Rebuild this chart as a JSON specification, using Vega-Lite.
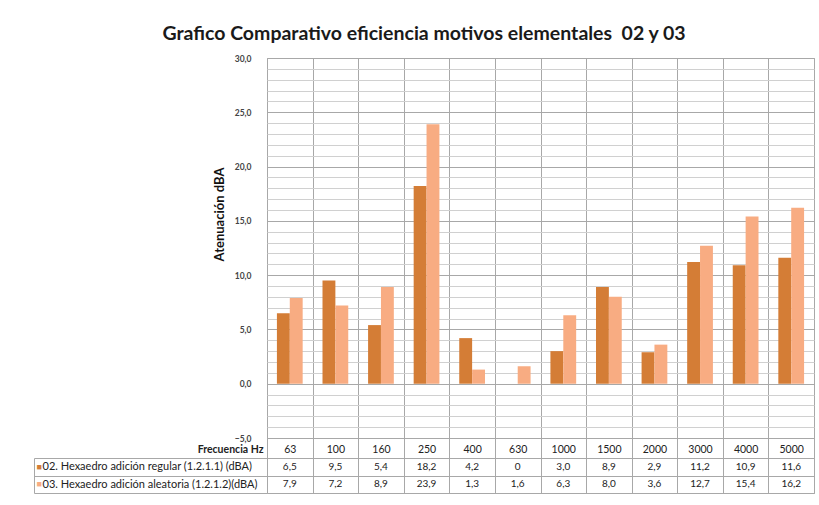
{
  "$schema": "https://vega.github.io/schema/vega-lite/v6.json",
  "background": "white",
  "padding": {"left": 33, "top": 24, "right": 6, "bottom": 12},
  "autosize": {"type": "pad"},
  "title": {
    "text": "Grafico Comparativo eficiencia motivos elementales \u00a002 y 03",
    "font": "Lato", "fontSize": 19.5, "fontWeight": "bold", "color": "#1a1a1a",
    "anchor": "middle", "frame": "bounds", "baseline": "bottom", "offset": -10
  },
  "config": {
    "locale": {"number": {"decimal": ",", "thousands": ".", "grouping": [3], "currency": ["", " €"]}},
    "font": "Lato",
    "view": {"stroke": "#a8a8a8"}
  },
  "data": {
    "values": [
      {"freq": "63", "series": "02. Hexaedro adición regular (1.2.1.1) (dBA)", "value": 6.5},
      {"freq": "100", "series": "02. Hexaedro adición regular (1.2.1.1) (dBA)", "value": 9.5},
      {"freq": "160", "series": "02. Hexaedro adición regular (1.2.1.1) (dBA)", "value": 5.4},
      {"freq": "250", "series": "02. Hexaedro adición regular (1.2.1.1) (dBA)", "value": 18.2},
      {"freq": "400", "series": "02. Hexaedro adición regular (1.2.1.1) (dBA)", "value": 4.2},
      {"freq": "630", "series": "02. Hexaedro adición regular (1.2.1.1) (dBA)", "value": 0},
      {"freq": "1000", "series": "02. Hexaedro adición regular (1.2.1.1) (dBA)", "value": 3.0},
      {"freq": "1500", "series": "02. Hexaedro adición regular (1.2.1.1) (dBA)", "value": 8.9},
      {"freq": "2000", "series": "02. Hexaedro adición regular (1.2.1.1) (dBA)", "value": 2.9},
      {"freq": "3000", "series": "02. Hexaedro adición regular (1.2.1.1) (dBA)", "value": 11.2},
      {"freq": "4000", "series": "02. Hexaedro adición regular (1.2.1.1) (dBA)", "value": 10.9},
      {"freq": "5000", "series": "02. Hexaedro adición regular (1.2.1.1) (dBA)", "value": 11.6},
      {"freq": "63", "series": "03. Hexaedro adición aleatoria (1.2.1.2)(dBA)", "value": 7.9},
      {"freq": "100", "series": "03. Hexaedro adición aleatoria (1.2.1.2)(dBA)", "value": 7.2},
      {"freq": "160", "series": "03. Hexaedro adición aleatoria (1.2.1.2)(dBA)", "value": 8.9},
      {"freq": "250", "series": "03. Hexaedro adición aleatoria (1.2.1.2)(dBA)", "value": 23.9},
      {"freq": "400", "series": "03. Hexaedro adición aleatoria (1.2.1.2)(dBA)", "value": 1.3},
      {"freq": "630", "series": "03. Hexaedro adición aleatoria (1.2.1.2)(dBA)", "value": 1.6},
      {"freq": "1000", "series": "03. Hexaedro adición aleatoria (1.2.1.2)(dBA)", "value": 6.3},
      {"freq": "1500", "series": "03. Hexaedro adición aleatoria (1.2.1.2)(dBA)", "value": 8.0},
      {"freq": "2000", "series": "03. Hexaedro adición aleatoria (1.2.1.2)(dBA)", "value": 3.6},
      {"freq": "3000", "series": "03. Hexaedro adición aleatoria (1.2.1.2)(dBA)", "value": 12.7},
      {"freq": "4000", "series": "03. Hexaedro adición aleatoria (1.2.1.2)(dBA)", "value": 15.4},
      {"freq": "5000", "series": "03. Hexaedro adición aleatoria (1.2.1.2)(dBA)", "value": 16.2}
    ]
  },
  "vconcat": [
    {
      "width": 547,
      "height": 380,
      "mark": {"type": "bar"},
      "encoding": {
        "x": {
          "field": "freq", "type": "nominal",
          "sort": ["63","100","160","250","400","630","1000","1500","2000","3000","4000","5000"],
          "scale": {"paddingInner": 0, "paddingOuter": 0},
          "axis": {
            "title": "Frecuencia Hz", "titleFont": "Lato", "titleFontSize": 10.5, "titleFontWeight": "bold", "titleColor": "#222",
            "titleX": -4, "titleY": 11, "titleAlign": "right", "titleBaseline": "middle", "titleAngle": 0,
            "labelAngle": 0, "labelFontSize": 10.5, "labelColor": "#222", "labelBaseline": "middle", "labelPadding": -9,
            "ticks": true, "tickBand": "extent", "tickSize": 20, "tickColor": "#a8a8a8",
            "grid": true, "gridColor": "#a8a8a8", "domain": false
          }
        },
        "xOffset": {
          "field": "series", "type": "nominal",
          "scale": {"paddingInner": 0, "paddingOuter": 0.77}
        },
        "y": {
          "field": "value", "type": "quantitative",
          "scale": {"domain": [-5, 30], "nice": false, "zero": false},
          "axis": {
            "title": "Atenuación dBA", "titleFont": "Lato", "titleFontSize": 13, "titleFontWeight": "bold", "titleColor": "#111",
            "titleX": -48, "titleY": 156, "titleAlign": "center", "titleBaseline": "middle", "titleAngle": -90,
            "values": [-5,-4,-3,-2,-1,0,1,2,3,4,5,6,7,8,9,10,11,12,13,14,15,16,17,18,19,20,21,22,23,24,25,26,27,28,29,30],
            "labelExpr": "datum.value % 5 === 0 ? replace(format(datum.value, '.1f'), '.', ',') : ''",
            "labelFontSize": 8.5, "labelFontWeight": "bold", "labelColor": "#444", "labelPadding": 16,
            "ticks": false, "domain": false,
            "grid": true,
            "gridColor": {"condition": {"test": "datum.value % 5 === 0", "value": "#a8a8a8"}, "value": "#d0d0d0"}
          }
        },
        "y2": {"datum": 0},
        "color": {
          "field": "series", "type": "nominal",
          "scale": {"range": ["#D47D36", "#F8AC82"]},
          "legend": null
        }
      }
    },
    {
      "width": 547,
      "height": 35,
      "layer": [
        {
          "mark": {"type": "text", "fontSize": 10, "color": "#222", "baseline": "middle"},
          "encoding": {
            "x": {
              "field": "freq", "type": "nominal",
              "sort": ["63","100","160","250","400","630","1000","1500","2000","3000","4000","5000"],
              "scale": {"paddingInner": 0, "paddingOuter": 0},
              "axis": {"title": null, "labels": false, "ticks": false, "domain": false, "grid": true, "tickBand": "extent", "gridColor": "#a8a8a8"}
            },
            "y": {
              "field": "series", "type": "nominal",
              "scale": {"paddingInner": 0, "paddingOuter": 0},
              "axis": {
                "title": null, "orient": "left", "domain": false,
                "ticks": true, "tickBand": "extent", "tickSize": 233, "tickColor": "#a8a8a8",
                "grid": true, "gridColor": "#a8a8a8",
                "labelAlign": "left", "labelPadding": -8, "labelLimit": 0, "labelFontSize": 11, "labelColor": "#222", "labelBaseline": "middle"
              }
            },
            "text": {
              "condition": {"test": "datum.value === 0", "value": "0"},
              "field": "value", "type": "quantitative", "format": ".1f"
            }
          }
        },
        {
          "mark": {"type": "rect", "opacity": 0},
          "encoding": {
            "x": {
              "field": "freq", "type": "nominal",
              "sort": ["63","100","160","250","400","630","1000","1500","2000","3000","4000","5000"]
            },
            "y": {
              "field": "series", "type": "nominal",
              "axis": {
                "title": null, "orient": "left", "offset": 233,
                "domain": true, "domainColor": "#a8a8a8", "ticks": false, "grid": false,
                "labelExpr": "'■'", "labelAlign": "left", "labelPadding": -2, "labelFontSize": 9, "labelBaseline": "middle",
                "labelColor": {"condition": {"test": "indexof(datum.value, '02.') === 0", "value": "#D47D36"}, "value": "#F8AC82"}
              }
            }
          }
        }
      ],
      "resolve": {"axis": {"y": "independent"}}
    }
  ],
  "spacing": 20,
  "bounds": "flush"
}
